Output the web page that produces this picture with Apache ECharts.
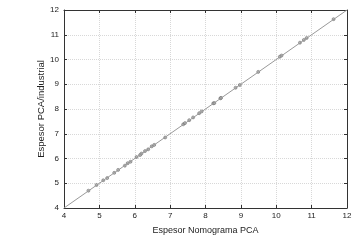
<!DOCTYPE html>
<html>
<head>
<meta charset="utf-8">
<script src="https://cdn.jsdelivr.net/npm/echarts@6/dist/echarts.min.js"></script>
<style>
  html, body { margin: 0; padding: 0; background: #fff; }
  #chart { width: 357px; height: 240px; }
</style>
</head>
<body>
<div id="chart"></div>
<script>
// Espesor Nomograma PCA (x) vs Espesor PCA/industrial (y)
const nomograma = [4.69, 4.92, 5.11, 5.22, 5.42, 5.53, 5.72, 5.8, 5.88, 6.05, 6.15, 6.19, 6.29, 6.38, 6.48, 6.55,
  6.86, 7.37, 7.42, 7.54, 7.65, 7.82, 7.89, 8.22, 8.25, 8.42, 8.44, 8.85, 8.97, 9.49, 10.1, 10.15, 10.67, 10.78, 10.86, 11.62];
const industrial = [4.7, 4.93, 5.12, 5.21, 5.42, 5.54, 5.71, 5.81, 5.87, 6.06, 6.14, 6.2, 6.3, 6.37, 6.49, 6.55,
  6.85, 7.38, 7.43, 7.55, 7.66, 7.83, 7.9, 8.23, 8.24, 8.43, 8.45, 8.86, 8.97, 9.5, 10.11, 10.16, 10.68, 10.79, 10.87, 11.63];
const lineX = [4, 12];
const lineY = [4, 12];

const chart = echarts.init(document.getElementById("chart"));

const points = nomograma.map((x, i) => [x, industrial[i]]);
const diag = lineX.map((x, i) => [x, lineY[i]]);

const axisBase = {
  type: "value",
  min: 4,
  max: 12,
  interval: 1,
  axisLine: { show: true, onZero: false, lineStyle: { color: "#333", width: 1 } },
  axisTick: { show: true, inside: true, length: 3, lineStyle: { color: "#333" } },
};

chart.setOption({
  animation: false,
  grid: { left: 64, right: 10, top: 10, bottom: 29 },
  xAxis: [
    {
      ...axisBase,
      position: "bottom",
      name: "Espesor Nomograma PCA",
      nameLocation: "middle",
      nameGap: 18,
      nameMoveOverlap: false,
      nameTextStyle: { fontFamily: "Liberation Sans", fontSize: 9, color: "#222" },
      axisLabel: { fontFamily: "Liberation Sans", fontSize: 8, color: "#222", margin: 4 },
      splitLine: { show: true, lineStyle: { color: "#d8d8d8", type: "dotted", width: 1 } },
    },
    {
      ...axisBase,
      position: "top",
      axisLabel: { show: false },
      splitLine: { show: false },
    },
  ],
  yAxis: [
    {
      ...axisBase,
      position: "left",
      name: "Espesor PCA/industrial",
      nameLocation: "middle",
      nameGap: 18,
      nameMoveOverlap: false,
      nameTextStyle: { fontFamily: "Liberation Sans", fontSize: 9.5, color: "#222" },
      axisLabel: { fontFamily: "Liberation Sans", fontSize: 8, color: "#222", margin: 5 },
      splitLine: { show: true, lineStyle: { color: "#d8d8d8", type: "dotted", width: 1 } },
    },
    {
      ...axisBase,
      position: "right",
      axisLabel: { show: false },
      splitLine: { show: false },
    },
  ],
  series: [
    {
      type: "line",
      data: diag,
      symbol: "none",
      lineStyle: { color: "#999", width: 1 },
    },
    {
      type: "scatter",
      data: points,
      symbol: "circle",
      symbolSize: 3,
      itemStyle: { color: "#aaa", borderColor: "#555", borderWidth: 0.6 },
    },
  ],
});
</script>
</body>
</html>
